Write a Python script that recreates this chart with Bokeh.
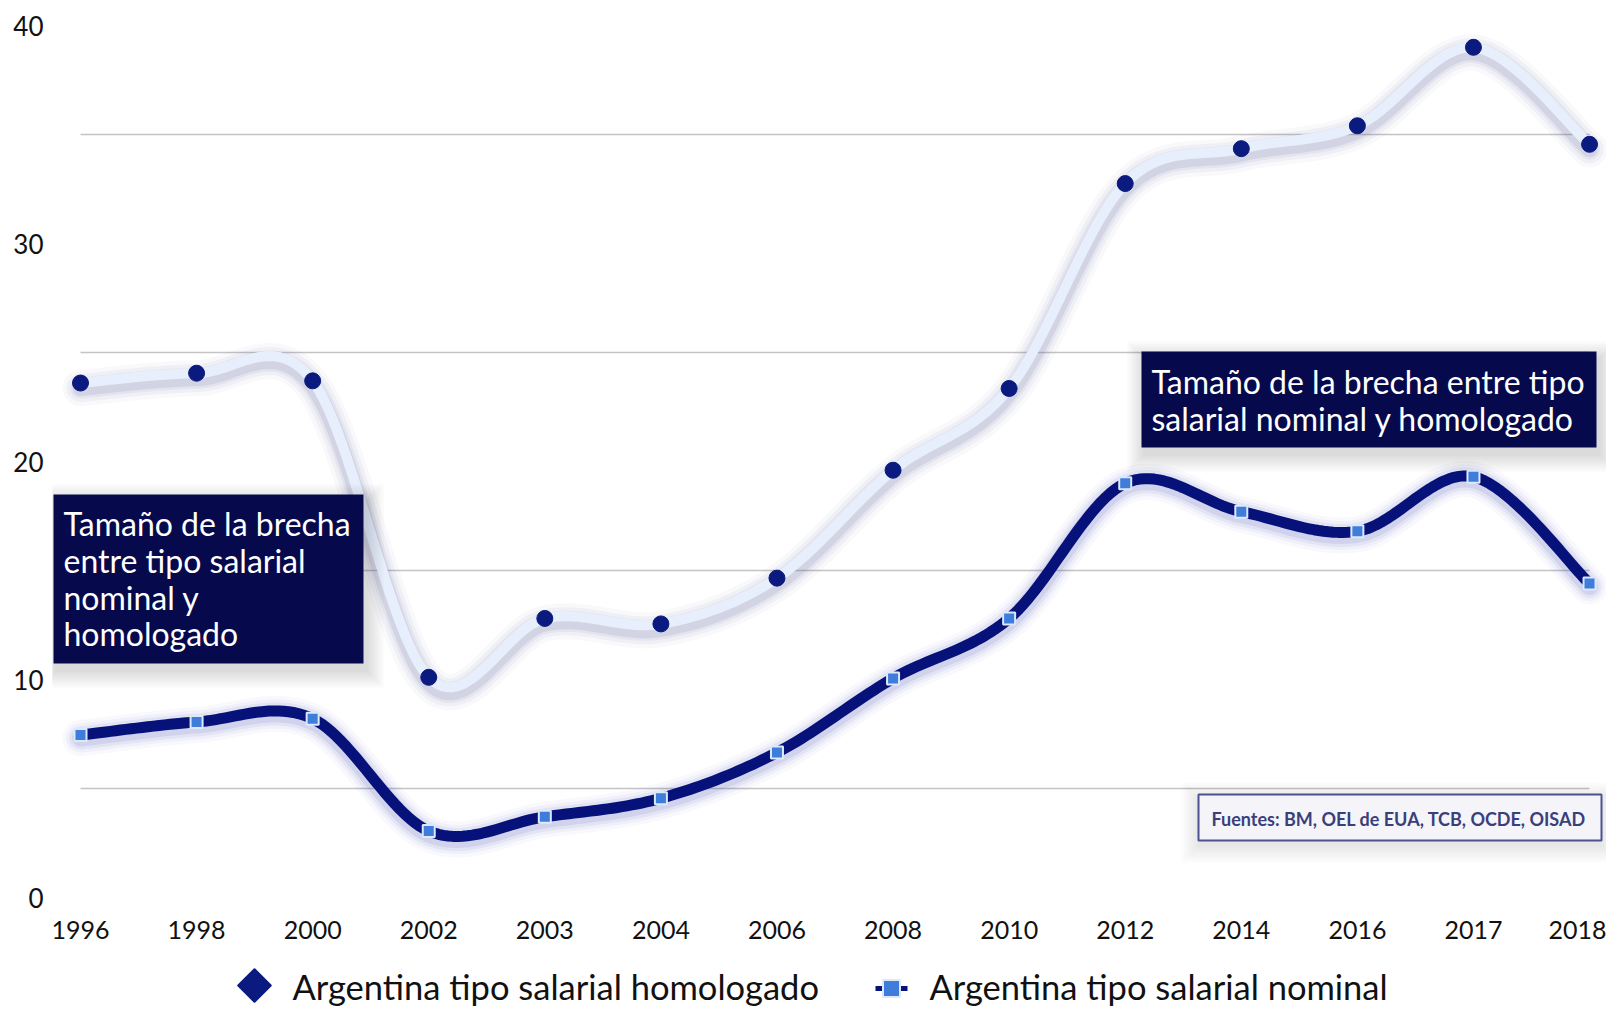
import numpy as np
from bokeh.plotting import figure
from bokeh.models import FixedTicker, Range1d
from bokeh.layouts import column
from bokeh.core.properties import value
from bokeh.embed import file_html
from bokeh.resources import INLINE

# ---------------- data ----------------
years = ["1996", "1998", "2000", "2002", "2003", "2004", "2006", "2008",
         "2010", "2012", "2014", "2016", "2017", "2018"]
homologado = [23.6, 24.05, 23.7, 10.1, 12.8, 12.55, 14.65, 19.6,
              23.35, 32.75, 34.35, 35.4, 39.0, 34.55]
nominal = [7.45, 8.05, 8.2, 3.05, 3.7, 4.55, 6.65, 10.05,
           12.8, 19.0, 17.7, 16.8, 19.3, 14.4]
series_names = ["Argentina tipo salarial homologado",
                "Argentina tipo salarial nominal"]
y_ticks = [0, 10, 20, 30, 40]
grid_values = [5, 15, 25, 35]
note_left = ["Tamaño de la brecha", "entre tipo salarial", "nominal y", "homologado"]
note_right = ["Tamaño de la brecha entre tipo", "salarial nominal y homologado"]
source_note = "Fuentes: BM, OEL de EUA, TCB, OCDE, OISAD"

FONT = value("Lato")
NAVY = "#0a1a7e"
LINE_NAVY = "#06127a"
LIGHT = "#e8effc"
SQ_BLUE = "#3f7ddb"
BOX = "#060a4c"

W = 1606
H_MAIN = 952
H_LEG = 56
LEFT = 52

# pixel helpers (layout only)
X0, UX, Y0, UY = 80.0, 116.08, 897.0, 21.8
def dx(px):
    return (px - X0) / UX
def dy(py):
    return (Y0 - py) / UY


def smooth(xs, ys, steps=24):
    """Catmull-Rom style smoothing of the line through the data points."""
    xs = np.asarray(xs, float)
    ys = np.asarray(ys, float)
    n = len(xs)
    ox, oy = [], []
    for i in range(n - 1):
        i0 = max(i - 1, 0)
        i3 = min(i + 2, n - 1)
        p0 = np.array([xs[i0], ys[i0]])
        p1 = np.array([xs[i], ys[i]])
        p2 = np.array([xs[i + 1], ys[i + 1]])
        p3 = np.array([xs[i3], ys[i3]])
        c1 = p1 + (p2 - p0) / 6.0
        c2 = p2 - (p3 - p1) / 6.0
        t = np.linspace(0, 1, steps, endpoint=(i == n - 2))
        b = ((1 - t) ** 3)[:, None] * p1 + (3 * (1 - t) ** 2 * t)[:, None] * c1 \
            + (3 * (1 - t) * t ** 2)[:, None] * c2 + (t ** 3)[:, None] * p2
        ox.extend(b[:, 0]); oy.extend(b[:, 1])
    return np.array(ox), np.array(oy)


xs = list(range(len(years)))

p = figure(width=W, height=H_MAIN,
           x_range=Range1d(dx(LEFT), dx(W)), y_range=Range1d(dy(900), dy(10)),
           output_backend="svg", toolbar_location=None,
           min_border_left=LEFT, min_border_right=0, min_border_top=10,
           min_border_bottom=H_MAIN - 900)
p.outline_line_color = None
p.background_fill_color = "white"
p.border_fill_color = "white"
p.xgrid.visible = False
p.ygrid.visible = False

# axes
p.xaxis.ticker = FixedTicker(ticks=xs)
p.xaxis.major_label_overrides = {i: y for i, y in enumerate(years)}
p.yaxis.ticker = FixedTicker(ticks=y_ticks)
for ax in (p.xaxis, p.yaxis):
    ax.axis_line_color = None
    ax.major_tick_line_color = None
    ax.minor_tick_line_color = None
    ax.major_tick_out = 0
    ax.major_tick_in = 0
    ax.major_label_text_font = "Lato"
    ax.major_label_text_color = "#111111"
p.xaxis.major_label_text_font_size = "25px"
p.yaxis.major_label_text_font_size = "26px"
p.xaxis.major_label_standoff = 20
p.yaxis.major_label_standoff = 9

# grid lines (only across the data span)
p.segment(x0=[xs[0]] * len(grid_values), x1=[xs[-1]] * len(grid_values),
          y0=grid_values, y1=grid_values, line_color="#c4c4c4", line_width=1.3)

# --- homologado (light line with shadow) ---
hx, hy = smooth(xs, homologado)
for w, a in [(36, 0.035), (28, 0.055), (21, 0.075), (16, 0.1)]:
    p.line(hx, hy - 5 / UY, line_color="#4e5390",
           line_width=w, line_alpha=a, line_join="round", line_cap="round")
p.line(hx, hy, line_color=LIGHT, line_width=10, line_join="round", line_cap="round")
p.scatter(xs, homologado, marker="circle", size=16, fill_color=NAVY, line_color=NAVY)

# --- nominal (dark line with blue glow) ---
nx, ny = smooth(xs, nominal)
for w, a in [(36, 0.03), (29, 0.05), (23, 0.07), (17, 0.1)]:
    p.line(nx, ny - 3 / UY, line_color="#3a46b0", line_width=w, line_alpha=a,
           line_join="round", line_cap="round")
p.line(nx, ny, line_color=LINE_NAVY, line_width=11, line_join="round", line_cap="round")
p.scatter(xs, nominal, marker="square", size=12, fill_color=SQ_BLUE,
          line_color="#dde9fa", line_width=2)


def shadow_box(l, r, t, b, fill, line=None, shadow_alpha=0.014, offx=3, offy=7):
    for s in np.arange(1, 19, 1.5):
        p.quad(left=dx(l - s + offx), right=dx(r + s + offx),
               top=dy(t - s + offy), bottom=dy(b + s + offy),
               fill_color="#202030", fill_alpha=shadow_alpha, line_color=None)
    p.quad(left=dx(l), right=dx(r), top=dy(t), bottom=dy(b), fill_color=fill,
           line_color=line, line_width=2 if line else 0)


# left note
shadow_box(53, 363, 494, 663, BOX)
p.text(x=[dx(63)] * 4, y=[dy(v) for v in (523, 560, 597, 633)], text=note_left,
       text_font=FONT, text_font_size="32px", text_color="white",
       text_baseline="middle", text_align="left")

# right note
shadow_box(1141, 1596, 351, 447, BOX)
p.text(x=[dx(1151)] * 2, y=[dy(v) for v in (381, 418)], text=note_right,
       text_font=FONT, text_font_size="32px", text_color="white",
       text_baseline="middle", text_align="left")

# source note
shadow_box(1198, 1601, 794, 840, "#f5f5f9", line="#4c5190", shadow_alpha=0.008,
           offx=0, offy=5)
p.text(x=[dx(1211)], y=[dy(818)], text=[source_note], text_font=FONT,
       text_font_size="18px", text_font_style="bold", text_color="#3a3f7c",
       text_baseline="middle", text_align="left")

# ---------------- legend strip ----------------
lg = figure(width=W, height=H_LEG, x_range=Range1d(LEFT, W), y_range=Range1d(0, H_LEG),
            output_backend="svg", toolbar_location=None,
            min_border_left=LEFT, min_border_right=0, min_border_top=0, min_border_bottom=0,
            x_axis_type=None, y_axis_type=None)
lg.outline_line_color = None
lg.xgrid.visible = False
lg.ygrid.visible = False
lg.border_fill_color = "white"
lg.background_fill_color = "white"

def ly(py):
    return (H_MAIN + H_LEG) - py

LEG_Y = 986
lg.scatter([254], [ly(LEG_Y - 1)], marker="square", size=23, angle=np.pi / 4,
           fill_color=NAVY, line_color=NAVY, line_width=2, line_join="round")
lg.segment(x0=[875], x1=[907], y0=[ly(LEG_Y + 2)], y1=[ly(LEG_Y + 2)],
           line_color=LINE_NAVY, line_width=5)
lg.scatter([891], [ly(LEG_Y + 2)], marker="square", size=17, fill_color=SQ_BLUE,
           line_color="#dde9fa", line_width=2)
lg.text(x=[292, 929], y=[ly(LEG_Y), ly(LEG_Y)], text=series_names,
        text_font=FONT, text_font_size="34.5px", text_color="#111111",
        text_baseline="middle", text_align="left")

layout = column(p, lg, spacing=0)
open("out.html", "w").write(file_html(layout, INLINE))
